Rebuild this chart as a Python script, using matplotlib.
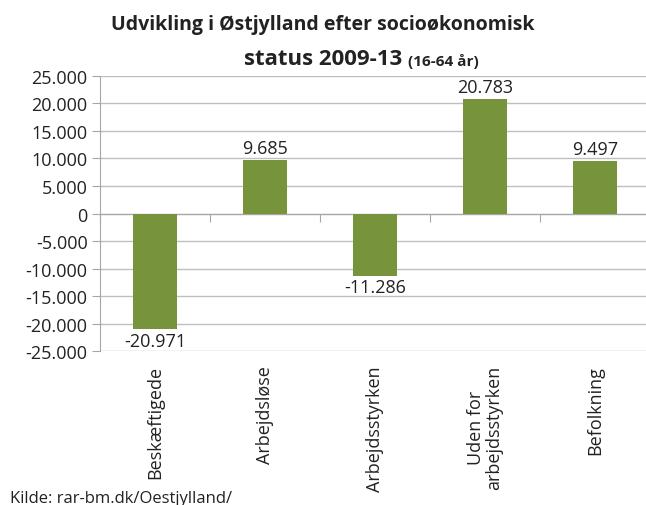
import matplotlib

matplotlib.use("Agg")
import matplotlib.pyplot as plt
import numpy as np
from matplotlib.ticker import FuncFormatter

CATEGORIES = ["Beskæftigede", "Arbejdsløse", "Arbejdsstyrken", "Uden for\narbejdsstyrken", "Befolkning"]
VALUES = [-20971, 9685, -11286, 20783, 9497]
Y_TICKS = [-25000, -20000, -15000, -10000, -5000, 0, 5000, 10000, 15000, 20000, 25000]

BAR_COLOR = "#77933C"
GRID_COLOR = "#BFBFBF"
AXIS_COLOR = "#A6A6A6"
TEXT_COLOR = "#222222"
FONT = ["Open Sans", "DejaVu Sans"]


def dk(v: float) -> str:
    return f"{v:,.0f}".replace(",", ".")


plt.rcParams["font.family"] = FONT
plt.rcParams["text.color"] = TEXT_COLOR

fig = plt.figure(figsize=(6.46, 5.06), dpi=100)
ax = fig.add_axes([0.155, 0.304, 0.852, 0.544])

x = np.arange(len(CATEGORIES))
ax.bar(x, VALUES, 0.4, color=BAR_COLOR, zorder=3)

ax.set_xlim(-0.5, len(CATEGORIES) - 0.5)
ax.set_ylim(Y_TICKS[0], Y_TICKS[-1])
ax.set_yticks(Y_TICKS)
ax.yaxis.set_major_formatter(FuncFormatter(lambda v, _: dk(v)))
ax.tick_params(axis="y", labelsize=13, length=6, pad=3, color=AXIS_COLOR, labelcolor=TEXT_COLOR)
ax.grid(axis="y", color=GRID_COLOR, linewidth=1.0, zorder=0)

for side in ("top", "right"):
    ax.spines[side].set_visible(False)
ax.spines["left"].set_color(AXIS_COLOR)
ax.spines["bottom"].set_position(("data", 0))
ax.spines["bottom"].set_color(AXIS_COLOR)
ax.set_xticks(np.arange(-0.5, len(CATEGORIES), 1.0))
ax.tick_params(axis="x", direction="out", length=6, color=AXIS_COLOR, labelbottom=False)

for xi, v in zip(x, VALUES):
    ax.annotate(
        dk(v),
        (xi, v),
        xytext=(0, 2 if v > 0 else -2),
        textcoords="offset points",
        ha="center",
        va="bottom" if v > 0 else "top",
        fontsize=13,
    )

for xi, cat in zip(x, CATEGORIES):
    ax.annotate(
        cat,
        (xi, Y_TICKS[0]),
        xytext=(0, -10),
        textcoords="offset points",
        rotation=90,
        ha="center",
        va="top",
        multialignment="center",
        fontsize=13,
        linespacing=1.0,
        annotation_clip=False,
    )

fig.text(0.5, 0.951, "Udvikling i Østjylland efter socioøkonomisk", ha="center", va="center",
         fontsize=14, fontweight="bold")
fig.text(0.623, 0.882, "status 2009-13", ha="right", va="center", fontsize=16, fontweight="bold")
fig.text(0.632, 0.879, "(16-64 år)", ha="left", va="center", fontsize=11, fontweight="bold")

fig.text(0.016, 0.03, "Kilde: rar-bm.dk/Oestjylland/", ha="left", va="top", fontsize=12)

fig.savefig("out.png", dpi=100)
plt.close(fig)
